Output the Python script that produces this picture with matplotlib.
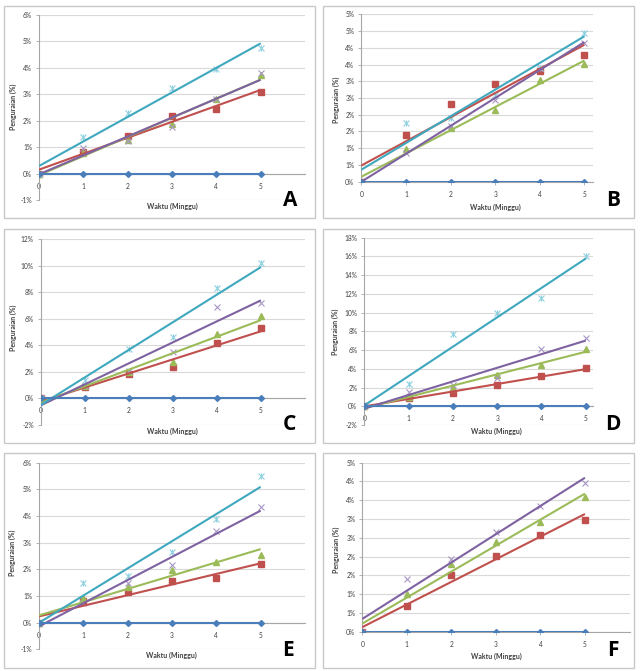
import numpy as np
import matplotlib
matplotlib.use("Agg")
import matplotlib.pyplot as plt
from matplotlib.patches import Rectangle

weeks = [0, 1, 2, 3, 4, 5]

# Panel A
A_blue = [0, 0, 0, 0, 0, 0]
A_red = [0, 0.80, 1.43, 2.18, 2.44, 3.09]
A_green = [0, 0.78, 1.28, 1.89, 2.82, 3.72]
A_purple = [0, 0.97, 1.23, 1.76, 2.82, 3.79]
A_cyan = [0, 1.38, 2.31, 3.23, 3.95, 4.77]
A_yticks = [-1, 0, 1, 2, 3, 4, 5, 6]
A_ylabels = ['-1%', '0%', '1%', '2%', '3%', '4%', '5%', '6%']

# Panel B
B_blue = [0, 0, 0, 0, 0, 0]
B_red = [0, 1.40, 2.31, 2.92, 3.30, 3.79]
B_green = [0, 0.99, 1.61, 2.13, 3.05, 3.52]
B_purple = [0, 0.85, 1.65, 2.45, 3.40, 4.15]
B_cyan = [0, 1.75, 1.90, 2.60, 3.40, 4.45]
B_yticks = [0, 0.5, 1, 1.5, 2, 2.5, 3, 3.5, 4, 4.5, 5]
B_ylabels = ['0%', '1%', '1%', '2%', '2%', '3%', '3%', '4%', '4%', '5%', '5%']

# Panel C
C_blue = [0, 0, 0, 0, 0, 0]
C_red = [0, 0.83, 1.81, 2.34, 4.20, 5.28]
C_green = [0, 0.93, 2.00, 2.74, 4.85, 6.20]
C_purple = [0, 0.90, 2.10, 3.50, 6.88, 7.20]
C_cyan = [0, 1.36, 3.70, 4.62, 8.32, 10.18]
C_yticks = [-2, 0, 2, 4, 6, 8, 10, 12]
C_ylabels = ['-2%', '0%', '2%', '4%', '6%', '8%', '10%', '12%']

# Panel D
D_blue = [0, 0, 0, 0, 0, 0]
D_red = [0, 0.93, 1.43, 2.25, 3.21, 4.04]
D_green = [0, 1.00, 2.00, 3.29, 4.46, 6.10]
D_purple = [0, 1.57, 2.30, 3.00, 6.14, 7.29]
D_cyan = [0, 2.36, 7.71, 9.96, 11.54, 16.00]
D_yticks = [-2, 0, 2, 4, 6, 8, 10, 12, 14, 16, 18]
D_ylabels = ['-2%', '0%', '2%', '4%', '6%', '8%', '10%', '12%', '14%', '16%', '18%']

# Panel E
E_blue = [0, 0, 0, 0, 0, 0]
E_red = [0, 0.81, 1.15, 1.56, 1.67, 2.19]
E_green = [0, 0.93, 1.35, 1.98, 2.29, 2.54]
E_purple = [0, 0.75, 1.50, 2.18, 3.42, 4.34]
E_cyan = [0, 1.47, 1.76, 2.64, 3.89, 5.51]
E_yticks = [-1, 0, 1, 2, 3, 4, 5, 6]
E_ylabels = ['-1%', '0%', '1%', '2%', '3%', '4%', '5%', '6%']

# Panel F
F_blue = [0, 0, 0, 0, 0, 0]
F_red = [0, 0.69, 1.50, 2.02, 2.58, 2.98]
F_green = [0, 1.00, 1.80, 2.39, 2.91, 3.58]
F_purple = [0, 1.41, 1.94, 2.66, 3.36, 3.95]
F_yticks = [0, 0.5, 1, 1.5, 2, 2.5, 3, 3.5, 4, 4.5]
F_ylabels = ['0%', '1%', '1%', '2%', '2%', '3%', '3%', '4%', '4%', '5%']

panel_letters = ['A', 'B', 'C', 'D', 'E', 'F']
x_title = 'Waktu (Minggu)'
y_title = 'Penguraian (%)'

W, H = 640, 671
fig = plt.figure(figsize=(W / 100, H / 100), dpi=100)
fig.patch.set_facecolor('white')

FONT = ['Lato', 'DejaVu Sans']

def fx(px):
    return px / W

def fy(py):
    return 1 - py / H

BLUE = '#4A7EBB'
RED = '#C0504D'
GREEN = '#9BBB59'
PURPLE = '#7E62A1'
CYAN = '#3FA8BF'

panels = [
    dict(series=[A_blue, A_red, A_green, A_purple, A_cyan], yt=A_yticks, yl=A_ylabels,
         ax=(39, 15, 305, 200), xlim=6, box=(4, 6, 315, 218),
         xt=(172, 206), ytp=(13, 107), letter=(290, 200)),
    dict(series=[B_blue, B_red, B_green, B_purple, B_cyan], yt=B_yticks, yl=B_ylabels,
         ax=(361.3, 14.3, 593.3, 181.7), xlim=5.2, box=(323, 6, 634, 218),
         xt=(495, 207), ytp=(336, 100), letter=(613, 200)),
    dict(series=[C_blue, C_red, C_green, C_purple, C_cyan], yt=C_yticks, yl=C_ylabels,
         ax=(40.7, 239, 305, 425), xlim=6, box=(4, 229, 315, 443),
         xt=(172.7, 431), ytp=(13, 328), letter=(289, 425)),
    dict(series=[D_blue, D_red, D_green, D_purple, D_cyan], yt=D_yticks, yl=D_ylabels,
         ax=(364.3, 237.7, 593.3, 425), xlim=5.17, box=(323, 229, 634, 443),
         xt=(496.7, 431), ytp=(335, 332), letter=(613, 425)),
    dict(series=[E_blue, E_red, E_green, E_purple, E_cyan], yt=E_yticks, yl=E_ylabels,
         ax=(39, 462.7, 305, 649.3), xlim=6, box=(4, 453, 315, 668),
         xt=(171.7, 655), ytp=(12, 553), letter=(288, 651)),
    dict(series=[F_blue, F_red, F_green, F_purple], yt=F_yticks, yl=F_ylabels,
         ax=(362.3, 462.7, 629.5, 631.7), xlim=6, box=(323, 453, 634, 668),
         xt=(496, 656), ytp=(336, 550), letter=(613, 651)),
]

colors = [BLUE, RED, GREEN, PURPLE, CYAN]
x = np.array(weeks, dtype=float)

for letter, p in zip(panel_letters, panels):
    bx0, by0, bx1, by1 = p['box']
    fig.patches.append(Rectangle((fx(bx0), fy(by1)), fx(bx1 - bx0), (by1 - by0) / H,
                                 transform=fig.transFigure, facecolor='none',
                                 edgecolor='#C8C8C8', lw=1.0, zorder=0))
    x0, y0, x1, y1 = p['ax']
    ax = fig.add_axes([fx(x0), fy(y1), fx(x1 - x0), (y1 - y0) / H])
    ax.set_facecolor('none')
    for s in ['top', 'right']:
        ax.spines[s].set_visible(False)
    ax.spines['bottom'].set_position(('data', 0))
    ax.spines['left'].set_color('#A6A6A6')
    ax.spines['left'].set_linewidth(0.8)
    ax.spines['bottom'].set_color('#A6A6A6')
    ax.spines['bottom'].set_linewidth(0.8)

    ax.set_xlim(0, p['xlim'])
    ax.set_ylim(p['yt'][0], p['yt'][-1])
    ax.set_yticks(p['yt'])
    ax.set_yticklabels(p['yl'])
    ax.set_xticks(weeks)
    ax.set_xticklabels([str(w) for w in weeks])
    ax.tick_params(axis='both', length=2, width=0.6, color='#A6A6A6',
                   labelsize=4.8, labelcolor='#404040')
    ax.tick_params(axis='x', pad=4.5)
    ax.tick_params(axis='y', pad=3)
    for lab in ax.get_xticklabels() + ax.get_yticklabels():
        lab.set_family(FONT)
    ax.grid(axis='y', color='#D9D9D9', lw=0.8, zorder=0)
    ax.set_axisbelow(True)

    ser = p['series']
    ax.plot(x, ser[0], color=BLUE, lw=1.5, marker='D', ms=3.0, zorder=5)
    for i, ys in enumerate(ser[1:], start=1):
        ys = np.array(ys)
        c = colors[i]
        if i == 1:
            ax.plot(x, ys, ls='none', marker='s', ms=4.2, color=c, zorder=3)
        elif i == 2:
            ax.plot(x, ys, ls='none', marker='^', ms=4.2, color=c, zorder=3)
        elif i == 3:
            ax.plot(x, ys, ls='none', marker='x', ms=4, mew=0.8, color='#A896C4', zorder=3)
        else:
            ax.plot(x, ys, ls='none', marker='x', ms=4, mew=0.8, color='#8FD0E0', zorder=3)
            ax.plot(x, ys, ls='none', marker='|', ms=4, mew=0.8, color='#8FD0E0', zorder=3)
        k, b = np.polyfit(x, ys, 1)
        xx = np.array([0.0, 5.0])
        ax.plot(xx, k * xx + b, color=c, lw=1.5, zorder=4, solid_capstyle='butt')

    tx, ty = p['xt']
    fig.text(fx(tx), fy(ty), x_title, fontsize=5, fontweight='bold', color='#404040',
             ha='center', va='center', family=FONT)
    yx, yy = p['ytp']
    fig.text(fx(yx), fy(yy), y_title, fontsize=5, fontweight='bold', color='#404040',
             ha='center', va='center', rotation=90, family=FONT)
    lx, ly = p['letter']
    fig.text(fx(lx), fy(ly), letter, fontsize=15, fontweight='bold', color='black',
             ha='center', va='center', family=['Open Sans', 'DejaVu Sans'])

fig.savefig('out.png', dpi=100, facecolor='white')
